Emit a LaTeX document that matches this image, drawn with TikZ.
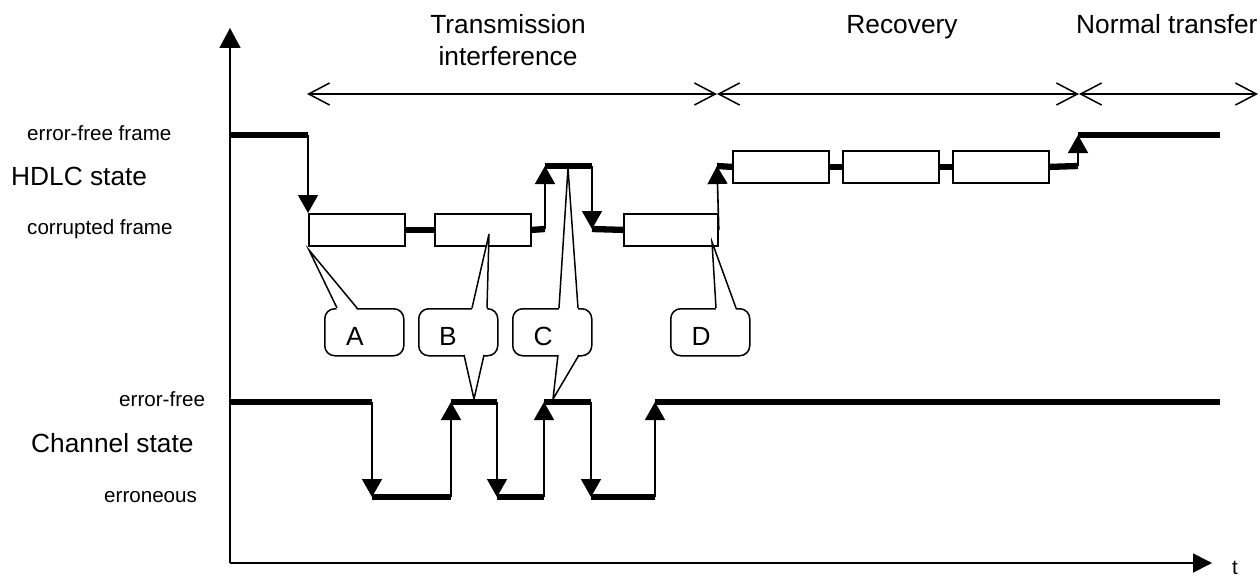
\documentclass[tikz,border=0pt]{standalone}
\usepackage{fontspec}
\setmainfont{Liberation Sans}
\usetikzlibrary{arrows.meta}
\begin{document}
\begin{tikzpicture}[x=1pt,y=-1pt,
  lblbig/.style={font=\fontsize{26.3}{30}\selectfont, inner sep=0pt},
  lblsmall/.style={font=\fontsize{20.6}{24}\selectfont, inner sep=0pt},
  lvl/.style={line width=6.3pt},
  tr/.style={line width=1.6pt, -{Triangle[length=18pt,width=20pt]}},
  frm/.style={draw, line width=1.8pt, fill=white, minimum height=32pt, inner sep=0pt, anchor=north west},
  cbox/.style={draw, line width=1.5pt, rounded corners=10pt, minimum width=79pt, minimum height=47pt, inner sep=0pt, anchor=north west},
  ptr/.style={line width=1.5pt, line join=miter},
  spanarrow/.style={line width=1.5pt, {Straight Barb[length=21pt,width=22pt]}-{Straight Barb[length=21pt,width=22pt]}},
  axis/.style={line width=1.6pt}
]
\useasboundingbox (0,0) rectangle (1260,578);

% axes
\coordinate (O) at (230,563);
\coordinate (Ytop) at (230,28);
\coordinate (Xend) at (1212,563);
\draw[axis, -{Triangle[length=20pt,width=21pt]}] (O) -- (Ytop);
\draw[axis, -{Triangle[length=19pt,width=19pt]}] (O) -- (Xend);
\node[lblsmall, anchor=base] (tlab) at (1235,574) {t};

% phase spans
\coordinate (p0) at (307,94);
\coordinate (p1) at (717,94);
\coordinate (p2) at (1079,94);
\coordinate (p3) at (1258,94);
\draw[spanarrow] (p0) -- (p1);
\draw[spanarrow] (p1) -- (p2);
\draw[spanarrow] (p2) -- (p3);
\node[lblbig, anchor=base] (ph1a) at (508,34) {Transmission};
\node[lblbig, anchor=base] (ph1b) at (508,66) {interference};
\node[lblbig, anchor=base] (ph2) at (902,34) {Recovery};
\node[lblbig, anchor=base west] (ph3) at (1076,34) {Normal transfer};

% left labels
\node[lblsmall, anchor=base west] (l1) at (27,140) {error-free frame};
\node[lblbig, anchor=base west] (l2) at (11,185) {HDLC state};
\node[lblsmall, anchor=base west] (l3) at (27,234) {corrupted frame};
\node[lblsmall, anchor=base west] (l4) at (119,406) {error-free};
\node[lblbig, anchor=base west] (l5) at (31,452) {Channel state};
\node[lblsmall, anchor=base west] (l6) at (104,502) {erroneous};

% HDLC frames
\node[frm, minimum width=96pt] (f1) at (308,213) {};
\node[frm, minimum width=96pt] (f2) at (434,213) {};
\node[frm, minimum width=94pt] (f3) at (623,213) {};
\node[frm, minimum width=96pt] (f4) at (732,150) {};
\node[frm, minimum width=96pt] (f5) at (842,150) {};
\node[frm, minimum width=96pt] (f6) at (952,150) {};

% HDLC state trace
\draw[lvl] (230,135) -- (308,135);
\draw[tr] (308,135) -- (f1.north west);
\draw[lvl] (f1.east) -- (f2.west);
\draw[lvl] (f2.east) -- (545,229);
\draw[tr] (545,229) -- (545,166);
\draw[lvl] (545,166) -- (592,166);
\draw[tr] (592,166) -- (592,229);
\draw[lvl] (592,229) -- (f3.west);
\draw[tr] (f3.east) -- (717,166);
\draw[lvl] (717,166) -- (f4.west);
\draw[lvl] (f4.east) -- (f5.west);
\draw[lvl] (f5.east) -- (f6.west);
\draw[lvl] (f6.east) -- (1078,166);
\draw[tr] (1078,166) -- (1078,135);
\draw[lvl] (1078,135) -- (1220,135);
% redraw frames on top
\node[frm, minimum width=96pt] at (308,213) {};
\node[frm, minimum width=96pt] at (434,213) {};
\node[frm, minimum width=94pt] at (623,213) {};
\node[frm, minimum width=96pt] at (732,150) {};
\node[frm, minimum width=96pt] at (842,150) {};
\node[frm, minimum width=96pt] at (952,150) {};

% Channel state trace
\draw[lvl] (230,402) -- (372,402);
\draw[tr] (372,402) -- (372,497);
\draw[lvl] (372,497) -- (451,497);
\draw[tr] (451,497) -- (451,402);
\draw[lvl] (451,402) -- (497,402);
\draw[tr] (497,402) -- (497,497);
\draw[lvl] (497,497) -- (544,497);
\draw[tr] (544,497) -- (544,402);
\draw[lvl] (544,402) -- (591,402);
\draw[tr] (591,402) -- (591,497);
\draw[lvl] (591,497) -- (655,497);
\draw[tr] (655,497) -- (655,402);
\draw[lvl] (655,402) -- (1220,402);

% callouts
\node[cbox] (cA) at (324,308) {};
\node[cbox] (cB) at (418,308) {};
\node[cbox] (cC) at (512,308) {};
\node[cbox] (cD) at (670,308) {};
\node[lblbig] (lA) at (355,336) {A};
\node[lblbig] (lB) at (448,336) {B};
\node[lblbig] (lC) at (543,336) {C};
\node[lblbig] (lD) at (701,336) {D};

\coordinate (tA) at (309,250);
\coordinate (tB) at (489,234);
\coordinate (tB2) at (474,399);
\coordinate (tC) at (568,168);
\coordinate (tC2) at (553,399);
\coordinate (tD) at (712,242);

\fill[white] (337,310) -- (tA) -- (357,310) -- cycle;
\draw[ptr] (337,308) -- (tA) -- (357,308);
\fill[white] (472,310) -- (tB) -- (487,310) -- cycle;
\draw[ptr] (472,308) -- (tB) -- (487,308);
\fill[white] (464,353) -- (tB2) -- (484,353) -- cycle;
\draw[ptr] (464,355) -- (tB2) -- (484,355);
\fill[white] (559,310) -- (tC) -- (578,310) -- cycle;
\draw[ptr] (559,308) -- (tC) -- (578,308);
\fill[white] (558,353) -- (tC2) -- (579,353) -- cycle;
\draw[ptr] (558,355) -- (tC2) -- (579,355);
\fill[white] (716,310) -- (tD) -- (736,310) -- cycle;
\draw[ptr] (716,308) -- (tD) -- (736,308);
\end{tikzpicture}
\end{document}
